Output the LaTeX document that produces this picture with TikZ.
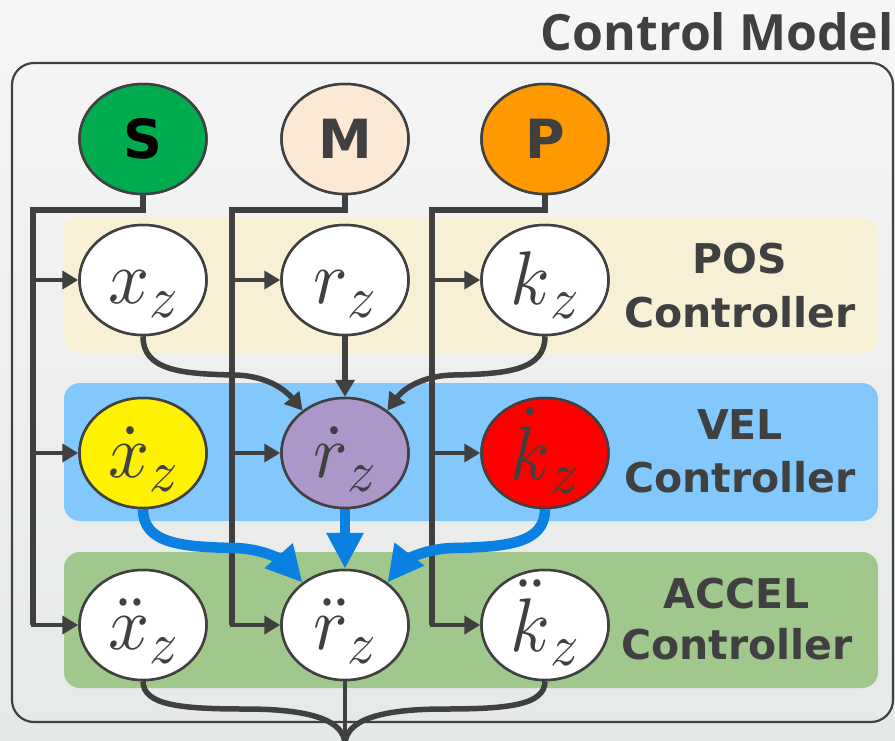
\documentclass[tikz,border=0pt]{standalone}
\usepackage{graphicx}
\usepackage{fontspec}
\usetikzlibrary{shapes.geometric,arrows.meta}
\newfontfamily\labelfont{DejaVu Sans}
\newfontfamily\titlefont{Open Sans}
\definecolor{ink}{HTML}{404040}
\definecolor{bgtop}{HTML}{F5F6F5}
\definecolor{bgbot}{HTML}{E6E9E9}
\definecolor{posband}{HTML}{F7F0D5}
\definecolor{velband}{HTML}{82C8FC}
\definecolor{accband}{HTML}{A0C78C}
\definecolor{sgreen}{HTML}{00AC4E}
\definecolor{mpeach}{HTML}{FBE9D5}
\definecolor{porange}{HTML}{FF9900}
\definecolor{lavender}{HTML}{AB97C8}
\definecolor{flowblue}{HTML}{0A80E0}
% a state variable with its z subscript
\newcommand\zvar[1]{\scalebox{7.2}[7.6]{$#1$}\raisebox{-14pt}{\scalebox{5.6}[5.9]{$z$}}}
\begin{document}
\begin{tikzpicture}[x=1pt,y=-1pt,
  el/.style={ellipse, draw=ink, line width=2.5pt, minimum width=127pt, minimum height=110pt, inner sep=0pt},
  mathlab/.style={anchor=base, text=ink, inner sep=0pt},
  srclab/.style={font=\labelfont\bfseries\fontsize{54}{54}\selectfont, text=ink, inner sep=0pt},
  ctrllab/.style={anchor=base, font=\labelfont\bfseries\fontsize{41}{41}\selectfont, text=ink, inner sep=0pt},
  bus/.style={draw=ink, line width=5.5pt},
  feed/.style={draw=ink, line width=4.5pt, -{Triangle[length=16pt,width=18pt]}},
  pass/.style={draw=ink, line width=5.5pt, -{Triangle[length=17pt,width=19pt]}},
  flow/.style={draw=flowblue, line width=10.5pt, -{Triangle[length=36pt,width=35pt]}},
  merge/.style={draw=ink, line width=5.5pt}]
\useasboundingbox (0,0) rectangle (895,740);
% background
\shade[top color=bgtop, bottom color=bgbot] (0,0) rectangle (895,740);
\node[anchor=base east, font=\titlefont\bfseries\fontsize{50}{50}\selectfont, text=ink, inner sep=0pt] (title) at (894,50) {Control Model};
\draw[ink, line width=2.2pt, rounded corners=22pt] (12,63) rectangle (893,722);
% controller bands
\fill[posband, rounded corners=16pt] (64,217) rectangle (878,354);
\fill[velband, rounded corners=16pt] (64,383) rectangle (878,521);
\fill[accband, rounded corners=16pt] (64,552) rectangle (878,688);

% node positions
\path (143,139) coordinate (pS) (345,139) coordinate (pM) (545,139) coordinate (pP);
\node[el] (xz) at (143,280) {};
\node[el] (rz) at (345,280) {};
\node[el] (kz) at (545,280) {};
\node[el] (xd) at (143,453) {};
\node[el] (rd) at (345,453) {};
\node[el] (kd) at (545,453) {};
\node[el] (xdd) at (143,625) {};
\node[el] (rdd) at (345,625) {};
\node[el] (kdd) at (545,625) {};
\node[el] (S) at (pS) {};
\node[el] (M) at (pM) {};
\node[el] (P) at (pP) {};

% bus lines
\coordinate (sbus) at (33,210);
\coordinate (mbus) at (232,210);
\coordinate (pbus) at (432,210);
\draw[bus] (S.south) |- (sbus) -- (sbus |- xdd);
\draw[bus] (M.south) |- (mbus) -- (mbus |- rdd);
\draw[bus] (P.south) |- (pbus) -- (pbus |- kdd);
\foreach \b/\n in {sbus/xz, sbus/xd, sbus/xdd, mbus/rz, mbus/rd, mbus/rdd, pbus/kz, pbus/kd, pbus/kdd}
  \draw[feed] ([xshift=-2.5pt]\b |- \n) -- (\n.west);

% position to velocity
\draw[pass] (xz.south) .. controls (143,370) and (180,374) .. (235,375) .. controls (270,376) and (287,392) .. (rd.135);
\draw[pass] (rz.south) -- (rd.north);
\draw[pass] (kz.south) .. controls (545,370) and (508,374) .. (453,375) .. controls (418,376) and (401,392) .. (rd.45);

% velocity to acceleration
\draw[flow] (xd.south) .. controls (143,543) and (180,547) .. (235,548) .. controls (270,549) and (287,565) .. (rdd.135);
\draw[flow] (rd.south) -- (rdd.north);
\draw[flow] (kd.south) .. controls (545,543) and (508,547) .. (453,548) .. controls (418,549) and (401,565) .. (rdd.45);

% outputs merging below
\coordinate (out) at (345,745);
\draw[merge] (xdd.south) .. controls (143,705) and (180,709) .. (245,709) .. controls (310,709) and (345,720) .. (out);
\draw[merge] (kdd.south) .. controls (545,705) and (508,709) .. (445,709) .. controls (380,709) and (345,720) .. (out);
\draw[ink, line width=3.5pt] (rdd.south) -- (out);

% redraw nodes on top of the lines
\node[el, fill=sgreen] at (S) {};
\node[el, fill=mpeach] at (M) {};
\node[el, fill=porange] at (P) {};
\node[el, fill=white] at (xz) {};
\node[el, fill=white] at (rz) {};
\node[el, fill=white] at (kz) {};
\node[el, fill=yellow] at (xd) {};
\node[el, fill=lavender] at (rd) {};
\node[el, fill=red] at (kd) {};
\node[el, fill=white] at (xdd) {};
\node[el, fill=white] at (rdd) {};
\node[el, fill=white] at (kdd) {};

% labels
\node[srclab, text=black] (Slab) at (S) {S};
\node[srclab] (Mlab) at (M) {M};
\node[srclab] (Plab) at (P) {P};
\node[mathlab] (xzl) at ([yshift=-23pt]xz.center) {\zvar{x}};
\node[mathlab] (rzl) at ([yshift=-23pt]rz.center) {\zvar{r}};
\node[mathlab] (kzl) at ([yshift=-24pt]kz.center) {\zvar{k}};
\node[mathlab] (xdl) at ([yshift=-24pt]xd.center) {\zvar{\dot{x}}};
\node[mathlab] (rdl) at ([yshift=-24pt]rd.center) {\zvar{\dot{r}}};
\node[mathlab] (kdl) at ([yshift=-26pt]kd.center) {\zvar{\dot{k}}};
\node[mathlab] (xddl) at ([yshift=-24pt]xdd.center) {\zvar{\ddot{x}}};
\node[mathlab] (rddl) at ([yshift=-24pt]rdd.center) {\zvar{\ddot{r}}};
\node[mathlab] (kddl) at ([yshift=-26pt]kdd.center) {\zvar{\ddot{k}}};

\node[ctrllab] (posA) at (740,273) {POS};
\node[ctrllab] (posB) at (740,327) {Controller};
\node[ctrllab] (velA) at (740,439) {VEL};
\node[ctrllab] (velB) at (740,492) {Controller};
\node[ctrllab] (accA) at (737,608) {ACCEL};
\node[ctrllab] (accB) at (737,659) {Controller};
\end{tikzpicture}
\end{document}
